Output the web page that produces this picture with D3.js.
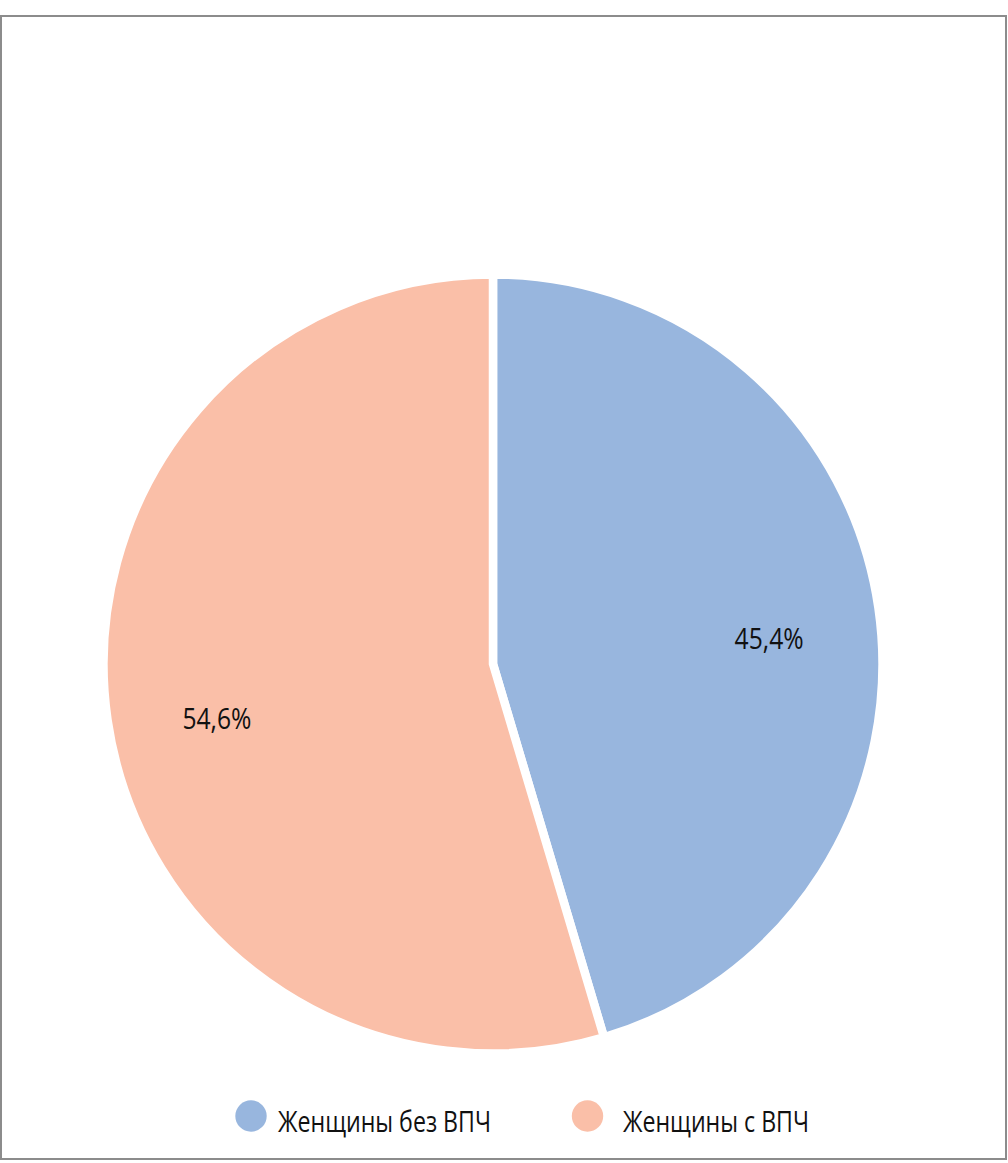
<!DOCTYPE html>
<html>
<head>
<meta charset="utf-8">
<script src="https://cdn.jsdelivr.net/npm/d3@7"></script>
<style>
  html, body { margin: 0; padding: 0; background: #fff; }
  svg { display: block; }
  text { font-family: "Liberation Sans Narrow", "Arial Narrow", "Open Sans", sans-serif; fill: #111; }
</style>
</head>
<body>
<svg id="chart" width="1008" height="1163"></svg>
<script>
const categories = ["Женщины без ВПЧ", "Женщины с ВПЧ"];
const values = [45.4, 54.6];
const valueLabels = ["45,4%", "54,6%"];
const colors = ["#98b6de", "#fabfa8"];

const W = 1008, H = 1163;
const svg = d3.select("#chart");

svg.append("rect")
  .attr("x", 1).attr("y", 16)
  .attr("width", 1005).attr("height", 1143)
  .attr("fill", "#fff")
  .attr("stroke", "#8c8c8c")
  .attr("stroke-width", 2);

const cx = 493, cy = 664, R = 389.5;
const data = categories.map((c, i) => ({ cat: c, value: values[i], label: valueLabels[i], color: colors[i] }));

const pie = d3.pie().value(d => d.value).sort(null);
const arcs = pie(data);
const arc = d3.arc().innerRadius(0).outerRadius(R);
const labelArc = d3.arc().innerRadius(279).outerRadius(279);

const g = svg.append("g").attr("transform", `translate(${cx},${cy})`);
g.selectAll("path.slice").data(arcs).enter().append("path")
  .attr("class", "slice")
  .attr("d", arc)
  .attr("fill", d => d.data.color)
  .attr("stroke", "#fff")
  .attr("stroke-width", 8.5)
  .attr("stroke-linejoin", "miter");

g.selectAll("text.val").data(arcs).enter().append("text")
  .attr("class", "val")
  .attr("x", d => labelArc.centroid(d)[0])
  .attr("y", d => labelArc.centroid(d)[1] + 25)
  .attr("text-anchor", "middle")
  .attr("font-size", 30)
  .attr("textLength", 69)
  .attr("lengthAdjust", "spacingAndGlyphs")
  .text(d => d.data.label);

// legend
const legendX = d3.scalePoint().domain(categories).range([251, 587.5]);
const legendTextGap = [27, 35.5];
const legendWidths = [213, 186];
const lg = svg.append("g");
const items = lg.selectAll("g").data(data).enter().append("g")
  .attr("transform", d => `translate(${legendX(d.cat)},1116)`);
items.append("circle").attr("r", 15.7).attr("fill", d => d.color);
items.append("text")
  .attr("x", (d, i) => legendTextGap[i]).attr("y", 15.5)
  .attr("font-size", 30)
  .attr("textLength", (d, i) => legendWidths[i])
  .attr("lengthAdjust", "spacingAndGlyphs")
  .text(d => d.cat);
</script>
</body>
</html>
